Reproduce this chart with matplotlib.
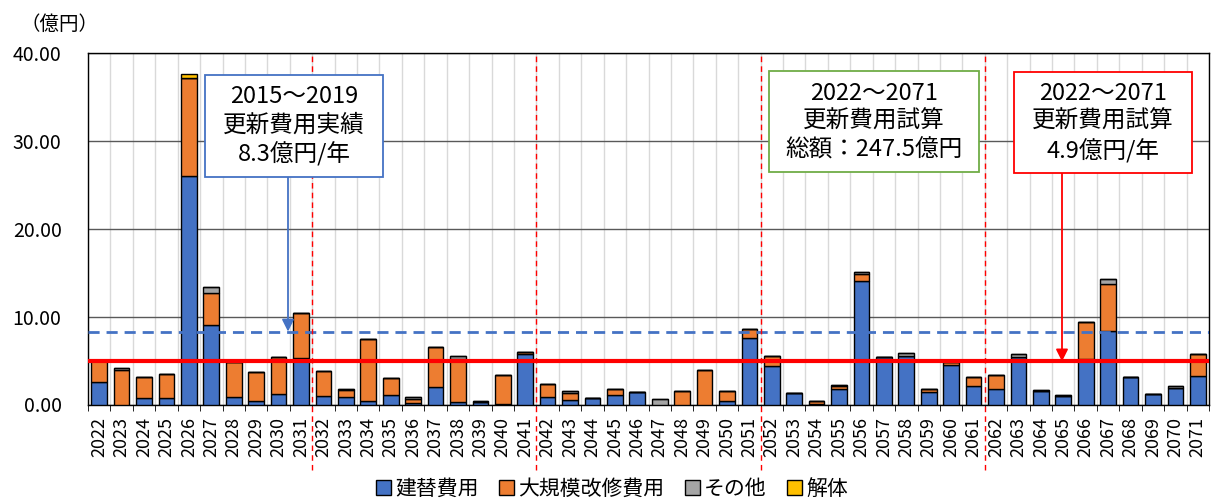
import matplotlib.pyplot as plt
from matplotlib.patches import Rectangle
import numpy as np

plt.rcParams['font.family'] = ['Noto Sans CJK JP', 'DejaVu Sans']

years = list(range(2022, 2072))

# 億円
rebuild = [2.6, 0.0, 0.76, 0.76, 26.0, 9.1, 0.87, 0.4, 1.25, 5.25,
           0.95, 0.8, 0.38, 1.07, 0.2, 1.95, 0.34, 0.3, 0.05, 5.7,
           0.8, 0.5, 0.76, 1.07, 1.45, 0.0, 0.0, 0.0, 0.42, 7.56,
           4.4, 1.34, 0.1, 1.8, 14.1, 5.36, 5.55, 1.42, 4.52, 2.07,
           1.72, 5.36, 1.53, 0.96, 5.13, 8.39, 3.14, 1.15, 1.92, 3.22]
renovate = [2.5, 3.9, 2.4, 2.75, 11.1, 3.6, 4.0, 3.25, 4.1, 5.2,
            2.85, 0.85, 7.06, 1.9, 0.4, 4.55, 4.86, 0.0, 3.3, 0.3,
            1.57, 0.76, 0.0, 0.7, 0.0, 0.0, 1.56, 3.93, 1.07, 1.04,
            1.1, 0.0, 0.32, 0.3, 0.7, 0.0, 0.0, 0.3, 0.28, 1.1,
            1.68, 0.0, 0.0, 0.0, 4.22, 5.29, 0.0, 0.0, 0.0, 2.48]
other = [0.0, 0.25, 0.0, 0.0, 0.0, 0.65, 0.0, 0.0, 0.0, 0.0,
         0.0, 0.1, 0.0, 0.0, 0.3, 0.0, 0.3, 0.05, 0.0, 0.0,
         0.0, 0.3, 0.0, 0.0, 0.0, 0.65, 0.0, 0.0, 0.0, 0.0,
         0.0, 0.0, 0.0, 0.1, 0.3, 0.0, 0.27, 0.08, 0.0, 0.0,
         0.0, 0.34, 0.17, 0.07, 0.0, 0.65, 0.0, 0.0, 0.15, 0.0]
demolish = [0.0] * 50
demolish[4] = 0.5

past_avg = 8.3
future_avg = 4.9

colors = ['#4472C4', '#ED7D31', '#A5A5A5', '#FFC000']
labels = ['建替費用', '大規模改修費用', 'その他', '解体']

fig = plt.figure(figsize=(12.16, 5.01), dpi=100)
L, R, T, B = 88, 1209, 53, 404.5
ax = fig.add_axes([L / 1216, 1 - B / 501, (R - L) / 1216, (B - T) / 501])

x = np.arange(len(years))
bottom = np.zeros(len(years))
for vals, c, lab in zip([rebuild, renovate, other, demolish], colors, labels):
    ax.bar(x, vals, 0.7, bottom=bottom, color=c, edgecolor='black', linewidth=1, label=lab, zorder=3)
    bottom += np.array(vals)

ax.set_xlim(-0.5, len(years) - 0.5)
ax.set_ylim(0, 40)
ax.set_yticks([0, 10, 20, 30, 40])
ax.set_yticklabels(['%.2f' % v for v in [0, 10, 20, 30, 40]], fontsize=14)
ax.tick_params(axis='y', length=0, pad=19)
ax.set_xticks(x)
ax.set_xticklabels([str(y) for y in years], rotation=90, fontsize=13)
ax.tick_params(axis='x', length=0, pad=9)
ax.set_xticks(np.arange(-0.5, len(years)), minor=True)
ax.tick_params(axis='x', which='minor', length=4, color='black')
ax.grid(axis='x', which='minor', color='#D9D9D9', linewidth=1, zorder=0)
ax.grid(axis='y', which='major', color='#595959', linewidth=1, zorder=1)
for s in ax.spines.values():
    s.set_color('black')
    s.set_linewidth(1)

ax.axhline(past_avg, color='#4472C4', linestyle=(0, (4, 2.5)), linewidth=2, zorder=4)
ax.axhline(future_avg, color='#FF0000', linewidth=3, zorder=5)

for b in [9.5, 19.5, 29.5, 39.5]:
    ax.axvline(b, ymin=-0.186, ymax=1, color='#FF0000', linestyle=(0, (4, 3)),
               linewidth=1, clip_on=False, zorder=6)

def fx(px):
    return (px - L) / (R - L)

def fy(py):
    return (B - py) / (B - T)

boxes = [
    ((205, 75, 383, 177), '#4472C4', '2015～2019\n更新費用実績\n8.3億円/年'),
    ((769, 71, 979, 172), '#70AD47', '2022～2071\n更新費用試算\n総額：247.5億円'),
    ((1014, 72, 1192, 173), '#FF0000', '2022～2071\n更新費用試算\n4.9億円/年'),
]
for (x0, y0, x1, y1), ec, txt in boxes:
    ax.add_patch(Rectangle((fx(x0), fy(y1)), fx(x1) - fx(x0), fy(y0) - fy(y1),
                           transform=ax.transAxes, facecolor='white', edgecolor=ec,
                           linewidth=1.3, zorder=8))
    ax.text(fx((x0 + x1) / 2), fy((y0 + y1) / 2), txt, transform=ax.transAxes,
            ha='center', va='center', fontsize=17, linespacing=1.3, zorder=9)

ax.annotate('', xy=(fx(288), past_avg), xycoords=('axes fraction', 'data'),
            xytext=(fx(288), fy(177)), textcoords='axes fraction',
            arrowprops=dict(arrowstyle='-|>', color='#4472C4', lw=1.3, mutation_scale=18,
                            shrinkA=0, shrinkB=0), zorder=7)
ax.annotate('', xy=(fx(1062), future_avg), xycoords=('axes fraction', 'data'),
            xytext=(fx(1062), fy(173)), textcoords='axes fraction',
            arrowprops=dict(arrowstyle='-|>', color='#FF0000', lw=1.3, mutation_scale=18,
                            shrinkA=0, shrinkB=0), zorder=7)

fig.text(20 / 1216, 1 - 24 / 501, '（億円）', fontsize=14, va='center', ha='left')

handles, labs = ax.get_legend_handles_labels()
fig.legend(handles, labs, loc='center', bbox_to_anchor=(612 / 1216, 1 - 489 / 501), ncol=4,
           frameon=False, fontsize=15, handlelength=0.7, handleheight=0.7,
           handletextpad=0.2, columnspacing=1.0, borderaxespad=0)

fig.savefig('out.png', dpi=100)
